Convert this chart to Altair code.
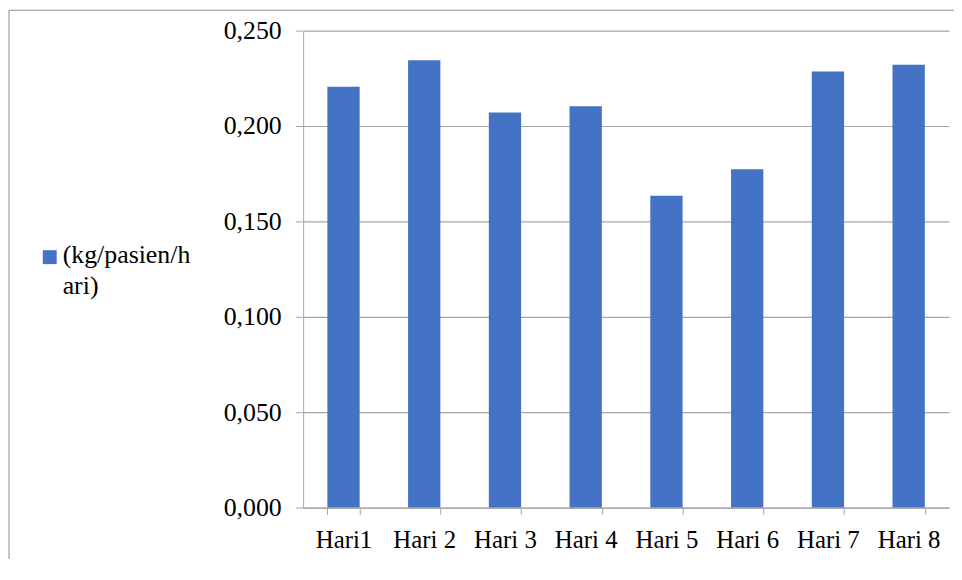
import altair as alt
import pandas as pd

categories = ["Hari1", "Hari 2", "Hari 3", "Hari 4", "Hari 5", "Hari 6", "Hari 7", "Hari 8"]
values = [0.2206, 0.2344, 0.2071, 0.2104, 0.1634, 0.1773, 0.2286, 0.2321]
series_name = "(kg/pasien/hari)"
y_ticks = [0.0, 0.05, 0.10, 0.15, 0.20, 0.25]

df = pd.DataFrame({"Hari": categories, "Nilai": values, "Seri": [series_name] * len(categories)})

W, H = 650, 480
FONT = "Liberation Serif"
GRID = "#a6a6a6"
BLUE = "#4472C4"

color_scale = alt.Scale(domain=[series_name], range=[BLUE])

bars = alt.Chart(df).mark_bar(color=BLUE).encode(
    x=alt.X("Hari:N", sort=categories,
            scale=alt.Scale(paddingInner=0.6, paddingOuter=0.3),
            axis=alt.Axis(title=None, labelAngle=0, labelFont=FONT, labelFontSize=25,
                          labelColor="#000000", tickBand="extent", tickSize=7,
                          tickColor=GRID, domainColor=GRID, labelPadding=13, grid=False)),
    y=alt.Y("Nilai:Q", scale=alt.Scale(domain=[0, 0.25], nice=False),
            axis=alt.Axis(title=None, values=y_ticks, labelFont=FONT, labelFontSize=26,
                          labelColor="#000000", tickSize=8, tickColor=GRID, domainColor=GRID,
                          gridColor=GRID, gridWidth=1.2, labelPadding=14,
                          labelExpr="replace(format(datum.value, '.3f'), '.', ',')")),
    color=alt.Color("Seri:N", scale=color_scale, legend=None),
)

legend_df = pd.DataFrame({"Seri": [series_name]})

legend_sym = alt.Chart(legend_df).mark_square(size=196, opacity=1).encode(
    x=alt.value(-255), y=alt.value(228),
    color=alt.Color("Seri:N", scale=color_scale, legend=None),
)

legend_txt = alt.Chart(legend_df).transform_calculate(
    lines="[slice(datum.Seri, 0, 12), slice(datum.Seri, 12)]"
).mark_text(align="left", baseline="alphabetic", font=FONT, fontSize=26,
            lineHeight=31, color="#000000").encode(
    x=alt.value(-242), y=alt.value(234), text="lines:N",
)

frame_df = pd.DataFrame({"k": [0]})
border_left = alt.Chart(frame_df).mark_rule(color="#8c8c8c", strokeWidth=1).encode(
    x=alt.value(-296), y=alt.value(-20.5), y2=alt.value(H + 60))
border_top = alt.Chart(frame_df).mark_rule(color="#8c8c8c", strokeWidth=1).encode(
    x=alt.value(-296), x2=alt.value(W + 10), y=alt.value(-20.5))

chart = alt.layer(border_left, border_top, bars, legend_sym, legend_txt).properties(
    width=W, height=H,
    padding={"left": 297, "top": 21, "right": 5, "bottom": 50},
    autosize=alt.AutoSizeParams(type="none"),
).configure_view(stroke=None).configure_axis(labelFont=FONT)

chart.save("out.html", embed_options={"renderer": "svg", "actions": False})
